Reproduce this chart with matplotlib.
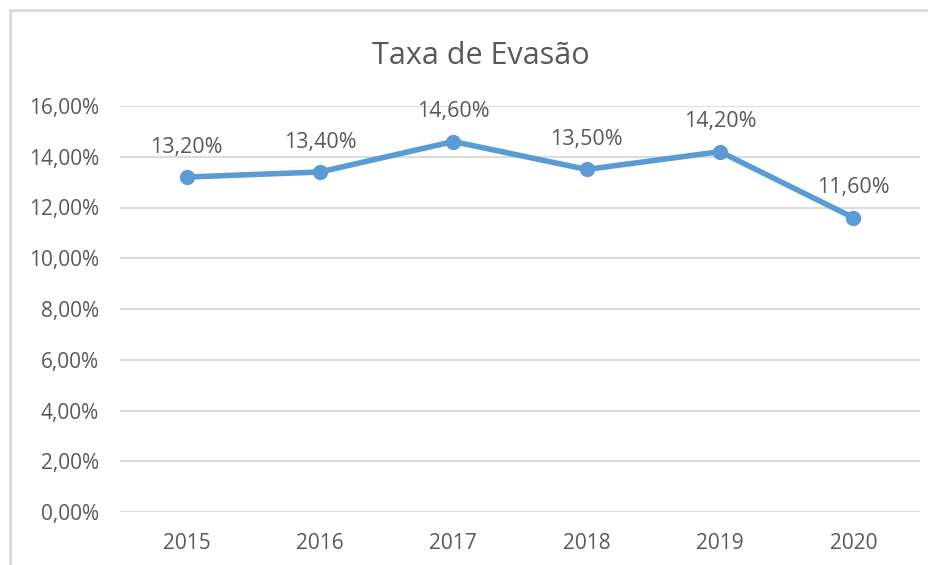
import matplotlib.pyplot as plt
from matplotlib.patches import Rectangle
from matplotlib.ticker import FuncFormatter

# dados
anos = ['2015', '2016', '2017', '2018', '2019', '2020']
taxa = [13.2, 13.4, 14.6, 13.5, 14.2, 11.6]
rotulos = ['13,20%', '13,40%', '14,60%', '13,50%', '14,20%', '11,60%']

plt.rcParams['font.family'] = ['Open Sans', 'DejaVu Sans']
cinza = '#595959'

fig = plt.figure(figsize=(9.29, 5.65), dpi=100)
ax = fig.add_axes([120 / 929, 1 - 512 / 565, 800 / 929, 406 / 565])

# moldura do grafico (estilo Excel)
fig.patches.append(Rectangle((10 / 929, -0.1), 1.2, 1 - 10 / 565 + 0.1,
                             transform=fig.transFigure, fill=False,
                             edgecolor='#d9d9d9', linewidth=2))

x = list(range(len(anos)))
ax.plot(x, taxa, color='#5b9bd5', linewidth=4, marker='o', markersize=10,
        solid_capstyle='round', zorder=3)

for xi, yi, txt in zip(x, taxa, rotulos):
    ax.annotate(txt, (xi, yi), xytext=(0, 14), textcoords='offset points',
                ha='center', va='bottom', fontsize=15.5, color=cinza)

ax.set_xlim(-0.5, len(anos) - 0.5)
ax.set_ylim(0, 16)
ax.set_yticks(range(0, 17, 2))
ax.yaxis.set_major_formatter(FuncFormatter(lambda v, p: f'{v:.2f}%'.replace('.', ',')))
ax.set_xticks(x)
ax.set_xticklabels(anos)

ax.grid(axis='y', color='#dcdcdc', linewidth=1.5)
ax.set_axisbelow(True)
for s in ax.spines.values():
    s.set_visible(False)
ax.tick_params(length=0, labelsize=15, labelcolor=cinza)
ax.tick_params(axis='y', pad=15)
ax.tick_params(axis='x', pad=15)

fig.text(481 / 929, 1 - 56 / 565, 'Taxa de Evasão', ha='center', va='center',
         fontsize=22, color=cinza)

fig.savefig('out.png', dpi=100)
